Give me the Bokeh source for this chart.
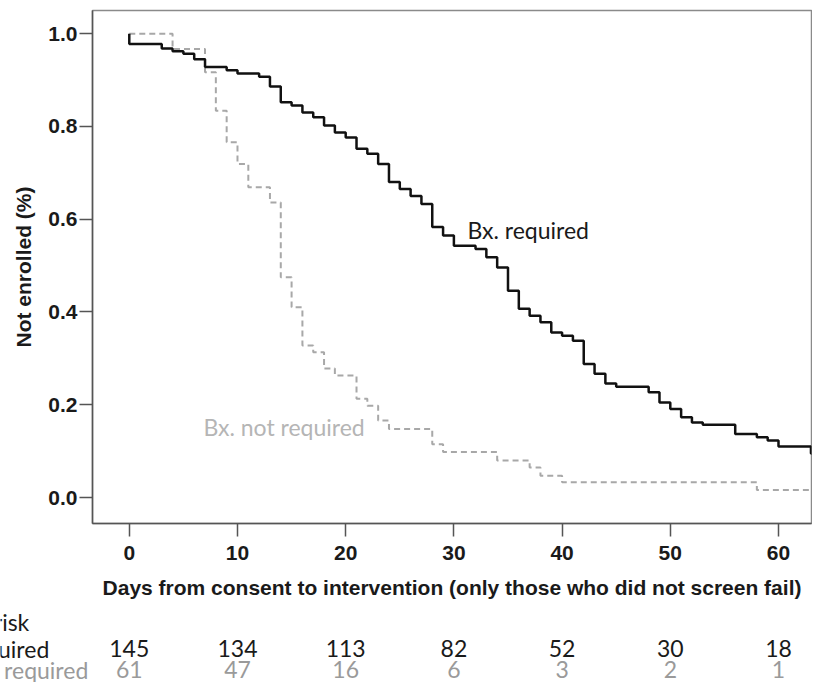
from bokeh.plotting import figure
from bokeh.models import Range1d, FixedTicker
from bokeh.layouts import column
from bokeh.core.properties import value
from bokeh.embed import file_html
from bokeh.resources import INLINE

# ---- data ----
req_days = [0, 0, 3, 4, 5, 6, 7, 9, 10, 12, 13, 14, 15, 16, 17, 18, 19, 20, 21, 22, 23,
            24, 25, 26, 27, 28, 29, 30, 32, 33, 34, 35, 36, 37, 38, 39, 40, 41, 42, 43,
            44, 45, 48, 49, 50, 51, 52, 53, 56, 58, 59, 60, 63, 63.3]
req_surv = [1.0, 0.978, 0.968, 0.962, 0.957, 0.945, 0.928, 0.921, 0.914, 0.907, 0.886,
            0.852, 0.845, 0.830, 0.820, 0.802, 0.787, 0.776, 0.752, 0.741, 0.719, 0.680,
            0.665, 0.650, 0.633, 0.583, 0.565, 0.543, 0.536, 0.518, 0.496, 0.446, 0.407,
            0.392, 0.378, 0.356, 0.349, 0.338, 0.288, 0.267, 0.246, 0.239, 0.227, 0.205,
            0.191, 0.173, 0.162, 0.157, 0.137, 0.130, 0.123, 0.110, 0.095, 0.095]

notreq_days = [0, 4, 7, 8, 9, 10, 11, 13, 14, 15, 16, 17, 18, 19, 21, 22, 23, 24, 28, 29,
               34, 37, 38, 40, 58, 63.3]
notreq_surv = [1.0, 0.967, 0.917, 0.834, 0.766, 0.719, 0.669, 0.636, 0.475, 0.410, 0.328,
               0.313, 0.278, 0.263, 0.213, 0.198, 0.166, 0.148, 0.115, 0.098, 0.080, 0.065,
               0.047, 0.033, 0.016, 0.016]

x_ticks = [0, 10, 20, 30, 40, 50, 60]
y_ticks = [0.0, 0.2, 0.4, 0.6, 0.8, 1.0]
y_tick_labels = ["0.0", "0.2", "0.4", "0.6", "0.8", "1.0"]

at_risk_required = [145, 134, 113, 82, 52, 30, 18]
at_risk_not_required = [61, 47, 16, 6, 3, 2, 1]

x_title = "Days from consent to intervention (only those who did not screen fail)"
y_title = "Not enrolled (%)"
label_required = "Bx. required"
label_not_required = "Bx. not required"
risk_title = "No. at risk"

# ---- geometry ----
X0, X1 = -3.4, 63.05
FRAME_L, FRAME_W, FRAME_T, FRAME_H = 92, 719, 10, 513
PPD = FRAME_W / (X1 - X0)
TOTAL_W = 812
TABLE_H = 76

# ---- main figure ----
p = figure(frame_width=FRAME_W, frame_height=FRAME_H, output_backend="svg",
           toolbar_location=None,
           x_range=Range1d(X0, X1), y_range=Range1d(-0.056, 1.05),
           min_border_left=FRAME_L, min_border_right=TOTAL_W - FRAME_L - FRAME_W,
           min_border_top=FRAME_T, min_border_bottom=83)
p.frame_align = False
p.grid.visible = False
p.outline_line_color = "#8a8a8a"
p.outline_line_width = 1.5
p.background_fill_color = "white"
p.border_fill_color = "white"

for ax in (p.xaxis[0], p.yaxis[0]):
    ax.axis_line_color = "#555555"
    ax.axis_line_width = 1.5
    ax.major_tick_line_color = "#555555"
    ax.major_tick_line_width = 1.5
    ax.major_tick_out = 13
    ax.major_tick_in = 0
    ax.minor_tick_line_color = None
    ax.major_label_text_font = "Liberation Sans"
    ax.major_label_text_font_style = "bold"
    ax.major_label_text_font_size = "21px"
    ax.major_label_text_color = "#1a1a1a"
    ax.axis_label_text_font = "Liberation Sans"
    ax.axis_label_text_font_style = "bold"
    ax.axis_label_text_font_size = "21px"
    ax.axis_label_text_color = "#1a1a1a"

p.xaxis.ticker = FixedTicker(ticks=x_ticks)
p.yaxis.ticker = FixedTicker(ticks=y_ticks)
p.yaxis.major_label_overrides = {t: l for t, l in zip(y_ticks, y_tick_labels)}
p.xaxis.major_label_standoff = 9
p.yaxis.major_label_standoff = 2
p.xaxis.axis_label = x_title
p.yaxis.axis_label = y_title
p.xaxis.axis_label_standoff = 13
p.yaxis.axis_label_standoff = 10

# ---- curves ----
p.step(notreq_days, notreq_surv, mode="after", line_color="#a8a8a8", line_width=2,
       line_dash="6 4")
p.step(req_days, req_surv, mode="after", line_color="#111111", line_width=2.5)

p.text(x=[31.26], y=[0.576], text=[label_required], text_font=value("Lato"),
       text_font_size="23px", text_color="#1a1a1a",
       text_align="left", text_baseline="middle")
p.text(x=[6.86], y=[0.153], text=[label_not_required], text_font=value("Lato"),
       text_font_size="23px", text_color="#b5b5b5",
       text_align="left", text_baseline="middle")

# ---- numbers-at-risk table (own canvas below, same x scale, frame = whole canvas) ----
t = figure(width=TOTAL_W, height=TABLE_H, output_backend="svg", toolbar_location=None,
           x_range=Range1d(X0 - FRAME_L / PPD, X1 + (TOTAL_W - FRAME_L - FRAME_W) / PPD),
           y_range=Range1d(TABLE_H, 0),
           min_border=0, min_border_left=0, min_border_right=0,
           min_border_top=0, min_border_bottom=0,
           x_axis_location=None, y_axis_location=None)
t.frame_align = False
t.grid.visible = False
t.outline_line_color = None
t.background_fill_color = "white"
t.border_fill_color = "white"

row_y = [15, 42, 63]
t.text(x=[0], y=[row_y[0]], text=[risk_title], x_offset=-100,
       text_font=value("Lato"), text_font_size="23px", text_color="#1a1a1a",
       text_align="right", text_baseline="middle")
t.text(x=[0], y=[row_y[1]], text=[label_required], x_offset=-80,
       text_font=value("Lato"), text_font_size="23px", text_color="#1a1a1a",
       text_align="right", text_baseline="middle")
t.text(x=[0], y=[row_y[2]], text=[label_not_required], x_offset=-41,
       text_font=value("Lato"), text_font_size="23px", text_color="#9a9a9a",
       text_align="right", text_baseline="middle")
t.text(x=x_ticks, y=[row_y[1]] * len(x_ticks), text=[str(v) for v in at_risk_required],
       text_font=value("Lato"), text_font_size="23px", text_color="#1a1a1a",
       text_align="center", text_baseline="middle")
t.text(x=x_ticks, y=[row_y[2]] * len(x_ticks), text=[str(v) for v in at_risk_not_required],
       text_font=value("Lato"), text_font_size="23px", text_color="#9a9a9a",
       text_align="center", text_baseline="middle")

layout = column(p, t, spacing=0)
open("out.html", "w").write(file_html(layout, INLINE))
